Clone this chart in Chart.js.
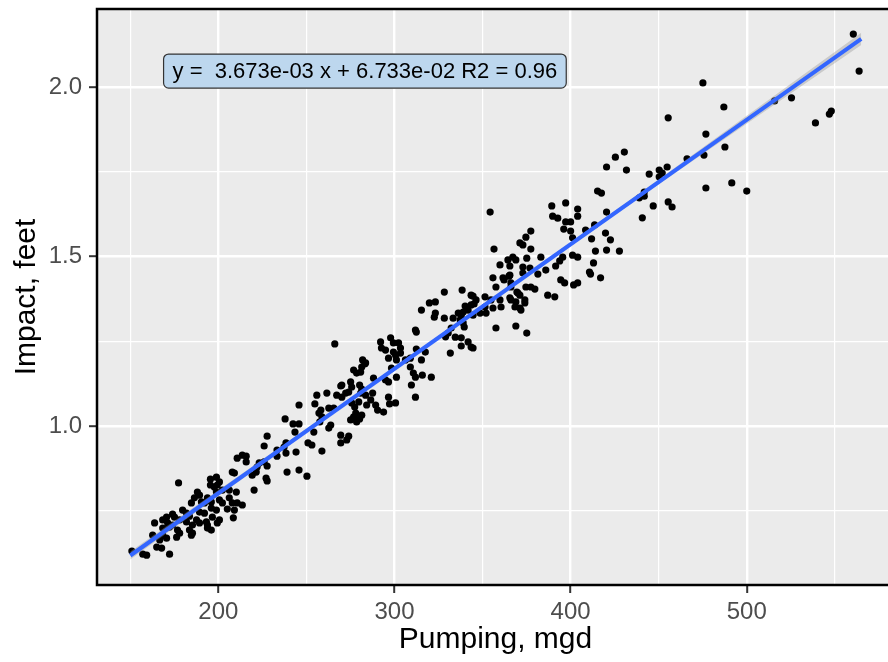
<!DOCTYPE html>
<html>
<head>
<meta charset="utf-8">
<script src="https://cdn.jsdelivr.net/npm/chart.js@4.4.1/dist/chart.umd.min.js"></script>
<style>
  html, body { margin: 0; padding: 0; overflow: hidden; background: #fff; }
  canvas { display: block; }
</style>
</head>
<body>
<canvas id="chart" width="898" height="662"></canvas>
<script>
const pumping = [
  // upper right
  475.1, 455.4, 487.0, 476.8, 487.6, 475.7, 466.1, 454.8,
  450.3, 452.0, 450.3, 444.6, 441.8, 441.8, 439.0, 446.9,
  455.4, 457.6, 440.7, 476.8, 491.5, 500.0, 515.8, 525.4,
  539.0, 546.9, 548.0, 563.8, 560.5,
  // 350 - 430
  430.5, 425.4, 420.4, 431.7, 415.3, 417.5, 397.2, 389.3,
  404.0, 389.8, 392.7, 404.0, 420.4, 397.2, 400.0, 396.1,
  400.0, 408.5, 413.6, 419.8, 401.1, 411.9, 422.6, 377.4,
  374.6, 371.2, 372.9, 377.4, 414.1, 420.4, 427.7, 401.1,
  404.0, 383.1, 367.2, 368.9, 375.1, 395.5, 393.8, 359.9,
  365.5, 372.9, 376.9, 391.5, 413.0, 385.9, 410.7, 411.3,
  381.4, 365.5, 372.9, 417.0, 394.4, 396.6, 404.0, 401.7,
  361.6, 377.4, 374.6, 356.5, 364.4, 387.0, 391.0, 366.1,
  357.6, 370.1, 374.0, 366.1, 368.4, 371.2, 359.9, 360.5,
  355.9, 351.4, 346.3, 343.5, 340.1, 336.2, 339.0, 341.8,
  344.6, 348.6, 351.4, 352.0, 328.3, 338.4, 343.5, 344.6,
  354.8, 365.5, 368.9, 374.0, 345.2, 371.8, 369.5, 371.2,
  379.7, 365.0, 355.9, 362.2, 366.1, 354.3,
  // 230 - 375
  315.3, 319.8, 323.2, 322.6, 323.2, 328.3, 333.3, 337.9,
  332.2, 330.5, 334.5, 337.9, 337.9, 341.8, 343.5, 344.6,
  331.7, 357.6, 368.9, 375.1, 311.9, 312.4, 337.3, 339.0,
  339.6, 329.0, 292.1, 297.8, 299.4, 302.3, 303.4, 292.6,
  294.9, 299.4, 300.6, 312.4, 317.5, 303.4, 296.6, 301.1,
  306.2, 309.0, 298.3, 266.1, 283.6, 281.4, 280.8, 276.8,
  278.5, 281.9, 283.1, 288.1, 294.9, 296.6, 301.1, 309.0,
  310.7, 315.3, 309.6, 311.9, 315.8, 320.9, 275.1, 275.7,
  270.1, 280.2, 281.4, 269.5, 274.0, 272.3, 255.9, 261.6,
  267.2, 270.1, 280.8, 283.6, 287.6, 311.9, 296.6, 286.5,
  289.3, 297.2, 300.6, 275.7, 277.4, 279.7, 284.2, 245.8,
  254.8, 258.2, 257.1, 262.7, 265.5, 278.0, 276.8, 281.4,
  280.2, 275.1, 278.5, 290.4, 293.8, 258.8, 257.6, 263.8,
  262.7, 237.9, 242.4, 245.8, 243.5, 254.2, 250.9, 253.1,
  227.7, 226.0, 238.4, 237.3, 233.3, 244.1, 258.8, 269.5,
  274.0, 272.9, 269.5,
  // lower left
  213.6, 215.8, 215.8, 223.2, 226.0, 227.7, 233.3, 238.4,
  222.0, 221.5, 219.2, 239.0, 245.8, 250.3, 227.1, 227.7,
  210.7, 207.9, 209.1, 177.4, 195.5, 198.9, 200.6, 195.5,
  197.7, 199.4, 202.3, 198.9, 206.2, 210.2, 220.3, 188.1,
  189.3, 186.4, 184.7, 190.4, 192.1, 193.8, 196.0, 200.6,
  202.3, 206.2, 207.9, 210.7, 213.6, 205.1, 209.1, 208.5,
  179.7, 181.9, 183.6, 174.0, 175.1, 189.3, 192.1, 196.0,
  198.9, 196.6, 200.6, 193.2, 193.8, 187.6, 189.3, 185.3,
  183.6, 185.3, 184.7, 181.9, 178.0, 170.6, 168.4, 171.2,
  163.8, 168.4, 172.3, 174.0, 176.8, 178.0, 193.8, 196.0,
  199.4, 162.7, 168.4, 170.6, 166.7, 176.3, 165.0, 167.8,
  150.9, 157.1, 159.3, 172.3
];

const impact = [
  // upper right
  2.012, 1.909, 1.941, 1.861, 1.823, 1.799, 1.788, 1.764,
  1.755, 1.746, 1.735, 1.743, 1.690, 1.678, 1.673, 1.649,
  1.661, 1.646, 1.614, 1.702, 1.717, 1.693, 1.959, 1.968,
  1.894, 1.920, 1.929, 2.047, 2.156,
  // 350 - 430
  1.808, 1.793, 1.764, 1.755, 1.693, 1.687, 1.658, 1.649,
  1.640, 1.619, 1.613, 1.619, 1.631, 1.602, 1.602, 1.581,
  1.575, 1.578, 1.593, 1.569, 1.555, 1.552, 1.549, 1.575,
  1.557, 1.540, 1.534, 1.522, 1.516, 1.519, 1.516, 1.504,
  1.498, 1.498, 1.498, 1.490, 1.495, 1.498, 1.487, 1.475,
  1.472, 1.469, 1.466, 1.472, 1.481, 1.460, 1.454, 1.448,
  1.448, 1.445, 1.451, 1.437, 1.431, 1.422, 1.422, 1.416,
  1.437, 1.410, 1.410, 1.522, 1.490, 1.386, 1.381, 1.410,
  1.410, 1.392, 1.372, 1.372, 1.351, 1.348, 1.372, 1.351,
  1.348, 1.381, 1.372, 1.357, 1.354, 1.333, 1.336, 1.342,
  1.327, 1.333, 1.351, 1.333, 1.395, 1.401, 1.386, 1.383,
  1.372, 1.378, 1.366, 1.363, 1.360, 1.342, 1.395, 1.386,
  1.404, 1.442, 1.437, 1.431, 1.422, 1.631,
  // 230 - 375
  1.342, 1.363, 1.366, 1.321, 1.333, 1.318, 1.318, 1.327,
  1.289, 1.274, 1.262, 1.260, 1.236, 1.248, 1.233, 1.230,
  1.215, 1.289, 1.295, 1.274, 1.283, 1.277, 1.313, 1.304,
  1.292, 1.263, 1.248, 1.260, 1.245, 1.245, 1.230, 1.230,
  1.224, 1.218, 1.209, 1.227, 1.218, 1.215, 1.200, 1.195,
  1.195, 1.200, 1.171, 1.242, 1.186, 1.174, 1.159, 1.165,
  1.156, 1.195, 1.183, 1.141, 1.136, 1.130, 1.144, 1.174,
  1.156, 1.195, 1.121, 1.144, 1.150, 1.144, 1.130, 1.115,
  1.121, 1.121, 1.109, 1.118, 1.100, 1.097, 1.091, 1.097,
  1.091, 1.085, 1.097, 1.091, 1.097, 1.085, 1.085, 1.077,
  1.062, 1.065, 1.068, 1.068, 1.056, 1.071, 1.062, 1.062,
  1.065, 1.047, 1.038, 1.053, 1.053, 1.038, 1.027, 1.032,
  1.021, 1.018, 1.012, 1.047, 1.041, 1.027, 1.012, 1.003,
  0.994, 1.021, 1.006, 1.006, 0.982, 0.982, 0.950, 0.944,
  0.970, 0.941, 0.950, 0.938, 0.929, 0.923, 0.926, 0.973,
  0.970, 0.959, 0.950,
  // lower left
  0.914, 0.911, 0.894, 0.891, 0.894, 0.882, 0.911, 0.920,
  0.879, 0.864, 0.855, 0.864, 0.870, 0.852, 0.846, 0.838,
  0.905, 0.864, 0.861, 0.832, 0.843, 0.849, 0.835, 0.826,
  0.820, 0.826, 0.811, 0.805, 0.811, 0.805, 0.811, 0.805,
  0.796, 0.788, 0.773, 0.776, 0.773, 0.788, 0.776, 0.782,
  0.773, 0.788, 0.773, 0.773, 0.767, 0.755, 0.752, 0.729,
  0.752, 0.743, 0.734, 0.740, 0.731, 0.746, 0.743, 0.758,
  0.752, 0.731, 0.723, 0.717, 0.708, 0.723, 0.714, 0.708,
  0.693, 0.684, 0.678, 0.717, 0.723, 0.731, 0.723, 0.714,
  0.714, 0.699, 0.702, 0.708, 0.693, 0.684, 0.699, 0.693,
  0.714, 0.678, 0.678, 0.669, 0.664, 0.672, 0.643, 0.640,
  0.631, 0.622, 0.619, 0.622
];

// fitted line (lm) and its confidence band
const fitX = [150, 565];
const fitY = [0.618, 2.142];
const bandX = [150, 250, 350, 450, 565];
const bandHigh = [0.630, 0.992, 1.358, 1.727, 2.160];
const bandLow = [0.606, 0.980, 1.348, 1.713, 2.124];
const fitLabel = 'y =  3.673e-03 x + 6.733e-02 R2 = 0.96';

// axis breaks
const xBreaks = [150, 200, 250, 300, 350, 400, 450, 500, 550];
const yBreaks = [0.75, 1.0, 1.25, 1.5, 1.75, 2.0];

const FONT = '"Liberation Sans", Arial, sans-serif';
Chart.defaults.font.family = FONT;

const isMajorX = v => v % 100 === 0;
const isMajorY = v => Math.abs(v * 2 - Math.round(v * 2)) < 1e-6;

const toPts = (xs, ys) => xs.map((x, i) => ({ x: x, y: ys[i] }));

// axes keep no extra room for overflowing labels
const noPad = s => {
    s.paddingTop = 0;
    s.paddingBottom = 0;
    s.paddingLeft = 0;
    s.paddingRight = 0;
};

// grey panel, black frame and the equation label
const ggPanel = {
    id: 'ggPanel',
    beforeDraw(chart) {
        const { ctx, chartArea: a } = chart;
        ctx.save();
        ctx.fillStyle = '#EBEBEB';
        ctx.fillRect(a.left, a.top, a.right - a.left, a.bottom - a.top);
        ctx.restore();
    },
    afterDraw(chart) {
        const { ctx, chartArea: a } = chart;
        ctx.save();
        ctx.strokeStyle = '#000';
        ctx.lineWidth = 2.5;
        ctx.beginPath();
        ctx.moveTo(a.right, a.top);
        ctx.lineTo(a.left, a.top);
        ctx.lineTo(a.left, a.bottom);
        ctx.lineTo(a.right, a.bottom);
        ctx.stroke();

        const left = chart.scales.x.getPixelForValue(168.9);
        const cy = chart.scales.y.getPixelForValue(2.047);
        ctx.font = '22px ' + FONT;
        const w = ctx.measureText(fitLabel).width + 18;
        ctx.beginPath();
        ctx.roundRect(left, cy - 17, w, 34, 5);
        ctx.fillStyle = '#BDD7EE';
        ctx.fill();
        ctx.lineWidth = 1.2;
        ctx.strokeStyle = '#333';
        ctx.stroke();
        ctx.fillStyle = '#000';
        ctx.textBaseline = 'middle';
        ctx.fillText(fitLabel, left + 9, cy + 1);
        ctx.restore();
    }
};

new Chart(document.getElementById('chart'), {
    type: 'scatter',
    data: {
        datasets: [
            {
                data: toPts(fitX, fitY),
                showLine: true,
                borderColor: '#3366FF',
                borderWidth: 4,
                pointRadius: 0,
                order: 0
            },
            {
                data: toPts(bandX, bandHigh),
                showLine: true,
                borderColor: 'rgba(0,0,0,0)',
                backgroundColor: 'rgba(153,153,153,0.4)',
                fill: '+1',
                pointRadius: 0,
                order: 1
            },
            {
                data: toPts(bandX, bandLow),
                showLine: true,
                borderColor: 'rgba(0,0,0,0)',
                fill: false,
                pointRadius: 0,
                order: 1
            },
            {
                data: toPts(pumping, impact),
                backgroundColor: '#000',
                borderWidth: 0,
                pointRadius: 3.6,
                order: 2
            }
        ]
    },
    options: {
        responsive: false,
        animation: false,
        layout: { padding: { top: 9, right: 0, bottom: 0, left: 0 } },
        plugins: {
            legend: { display: false },
            tooltip: { enabled: false }
        },
        scales: {
            x: {
                type: 'linear',
                min: 131.1,
                max: 583.6,
                afterBuildTicks: s => { s.ticks = xBreaks.map(v => ({ value: v })); },
                afterFit: s => { s.height = 77; noPad(s); },
                border: { display: false },
                grid: {
                    color: '#FFFFFF',
                    lineWidth: c => isMajorX(c.tick.value) ? 2.4 : 1.2,
                    tickColor: c => isMajorX(c.tick.value) ? '#333333' : 'rgba(0,0,0,0)',
                    tickLength: 8,
                    tickWidth: 2
                },
                ticks: {
                    autoSkip: false,
                    maxRotation: 0,
                    padding: 5,
                    color: '#4D4D4D',
                    font: { size: 24 },
                    callback: v => isMajorX(v) ? String(v) : ''
                },
                title: {
                    display: true,
                    text: 'Pumping, mgd',
                    color: '#000',
                    font: { size: 30 },
                    padding: { top: 0, bottom: 4 }
                }
            },
            y: {
                type: 'linear',
                min: 0.531,
                max: 2.230,
                afterBuildTicks: s => { s.ticks = yBreaks.map(v => ({ value: v })); },
                afterFit: s => { s.width = 97; noPad(s); },
                border: { display: false },
                grid: {
                    color: '#FFFFFF',
                    lineWidth: c => isMajorY(c.tick.value) ? 2.4 : 1.2,
                    tickColor: c => isMajorY(c.tick.value) ? '#333333' : 'rgba(0,0,0,0)',
                    tickLength: 8,
                    tickWidth: 2
                },
                ticks: {
                    autoSkip: false,
                    padding: 7,
                    color: '#4D4D4D',
                    font: { size: 24 },
                    callback: v => isMajorY(v) ? v.toFixed(1) : ''
                },
                title: {
                    display: true,
                    text: 'Impact, feet',
                    color: '#000',
                    font: { size: 30 },
                    padding: { top: 9, bottom: 0 }
                }
            }
        }
    },
    plugins: [ggPanel]
});
</script>
</body>
</html>
